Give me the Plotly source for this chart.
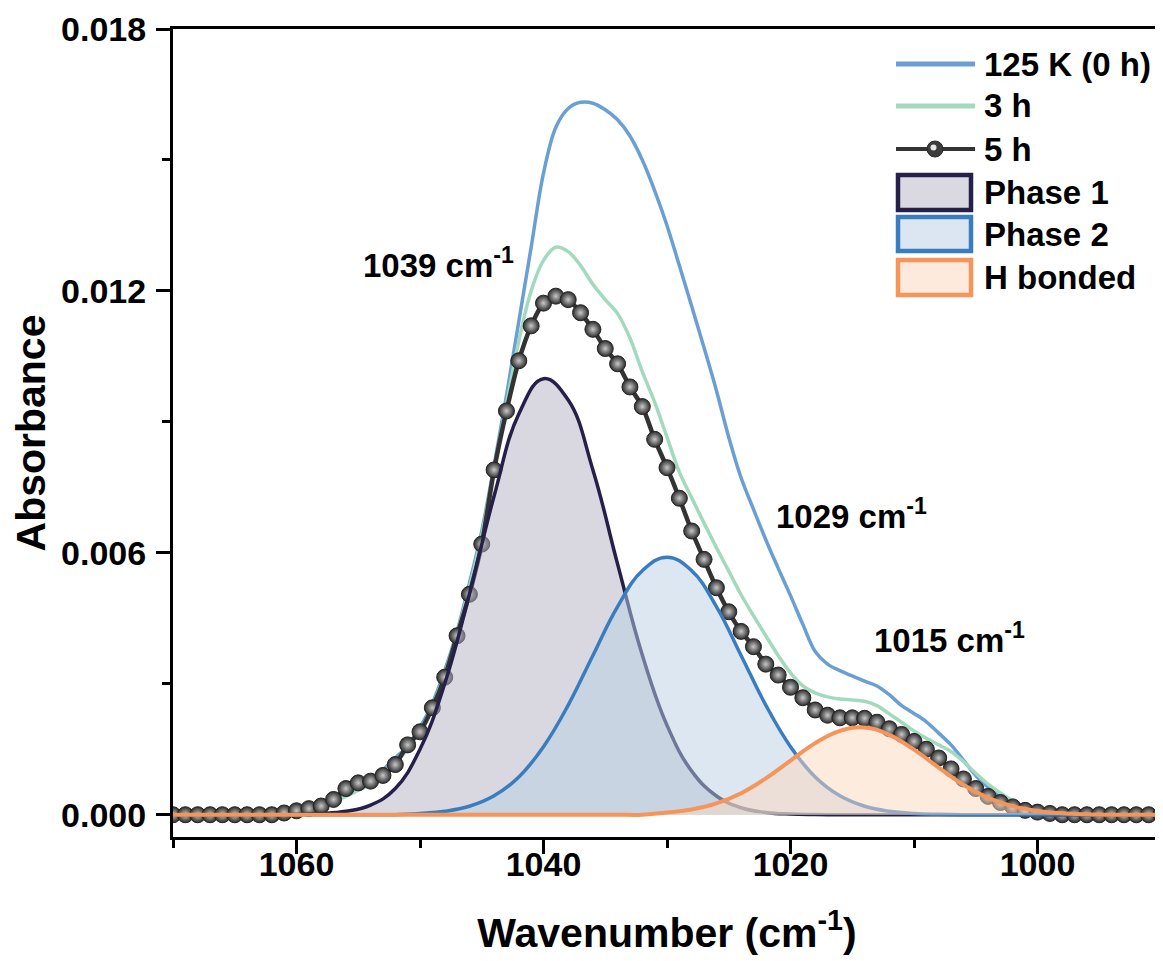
import plotly.graph_objects as go

# ---------------- data ----------------
wavenumber = [1070, 1069, 1068, 1067, 1066, 1065, 1064, 1063, 1062, 1061,
              1060, 1059, 1058, 1057, 1056, 1055, 1054, 1053, 1052, 1051,
              1050, 1049, 1048, 1047, 1046, 1045, 1044, 1043, 1042, 1041,
              1040, 1039, 1038, 1037, 1036, 1035, 1034, 1033, 1032, 1031,
              1030, 1029, 1028, 1027, 1026, 1025, 1024, 1023, 1022, 1021,
              1020, 1019, 1018, 1017, 1016, 1015, 1014, 1013, 1012, 1011,
              1010, 1009, 1008, 1007, 1006, 1005, 1004, 1003, 1002, 1001,
              1000, 999, 998, 997, 996, 995, 994, 993, 992, 991, 990]

abs_0h = [0, 0, 0, 0, 0, 0, 0, 0, 0, 0,
          0.00008, 0.00014, 0.00022, 0.00032, 0.00045, 0.00063, 0.00080, 0.00103, 0.00130, 0.00158,
          0.00200, 0.00255, 0.00330, 0.00420, 0.00530, 0.00650, 0.00800, 0.00960, 0.01130, 0.01300,
          0.01470, 0.01575, 0.01618, 0.01632, 0.01630, 0.01615, 0.01592, 0.01555, 0.01500, 0.01430,
          0.01350, 0.01258, 0.01165, 0.01070, 0.00972, 0.00865, 0.00772, 0.00700, 0.00630, 0.00565,
          0.00502, 0.00436, 0.00374, 0.00345, 0.00330, 0.00318, 0.00306, 0.00295, 0.00275, 0.00250,
          0.00232, 0.00213, 0.00187, 0.00160, 0.00125, 0.00090, 0.00063, 0.00040, 0.00025, 0.00012,
          0.00005, 0.00002, 0, 0, 0, 0, 0, 0, 0, 0, 0]

abs_3h = [0, 0, 0, 0, 0, 0, 0, 0, 0, 0,
          0.00008, 0.00013, 0.00020, 0.00030, 0.00042, 0.00056, 0.00070, 0.00090, 0.00118, 0.00150,
          0.00192, 0.00248, 0.00322, 0.00415, 0.00520, 0.00640, 0.00790, 0.00940, 0.01085, 0.01200,
          0.01270, 0.01300, 0.01290, 0.01258, 0.01215, 0.01180, 0.01148, 0.01092, 0.01015, 0.00945,
          0.00865, 0.00785, 0.00726, 0.00668, 0.00612, 0.00558, 0.00504, 0.00456, 0.00410, 0.00365,
          0.00325, 0.00295, 0.00279, 0.00270, 0.00265, 0.00263, 0.00260, 0.00250, 0.00231, 0.00212,
          0.00192, 0.00175, 0.00160, 0.00145, 0.00122, 0.00095, 0.00070, 0.00050, 0.00032, 0.00018,
          0.00008, 0.00003, 0, 0, 0, 0, 0, 0, 0, 0, 0]

abs_5h = [0, 0, 0, 0, 0, 0, 0, 0, 0, 0.00004,
          0.00009, 0.00014, 0.00020, 0.00035, 0.00060, 0.00073, 0.00077, 0.00090, 0.00115, 0.00160,
          0.00190, 0.00245, 0.00315, 0.00410, 0.00505, 0.00620, 0.00790, 0.00925, 0.01040, 0.01120,
          0.01172, 0.01188, 0.01180, 0.01150, 0.01112, 0.01068, 0.01033, 0.00980, 0.00935, 0.00860,
          0.00795, 0.00725, 0.00650, 0.00585, 0.00520, 0.00465, 0.00420, 0.00385, 0.00345, 0.00320,
          0.00292, 0.00268, 0.00240, 0.00228, 0.00222, 0.00222, 0.00221, 0.00212, 0.00197, 0.00184,
          0.00168, 0.00150, 0.00130, 0.00105, 0.00082, 0.00060, 0.00042, 0.00028, 0.00018, 0.00010,
          0.00006, 0.00003, 0, 0, 0, 0, 0, 0, 0, 0, 0]

wavenumber_fit = [1070, 1068, 1066, 1064, 1062, 1060, 1058, 1056, 1054, 1052,
                  1050, 1048, 1046, 1044, 1042, 1040, 1038, 1036, 1034, 1032,
                  1030, 1028, 1026, 1024, 1022, 1020, 1018, 1016, 1014, 1012,
                  1010, 1008, 1006, 1004, 1002, 1000, 998, 996, 994, 992, 990]

phase1 = [0, 0, 0, 0, 0, 0.000007, 0.000027, 0.000080, 0.00022, 0.00060,
          0.00150, 0.00300, 0.00505, 0.00730, 0.00918, 0.00999, 0.00950, 0.00790, 0.00574, 0.00366,
          0.00205, 0.00100, 0.00043, 0.00016, 0.000053, 0.000015, 0.000004, 0, 0, 0,
          0, 0, 0, 0, 0, 0, 0, 0, 0, 0, 0]

phase2 = [0, 0, 0, 0, 0, 0, 0, 0, 0, 0,
          0.000029, 0.000079, 0.000194, 0.000433, 0.000865, 0.00156, 0.00251, 0.00365, 0.00477, 0.00559,
          0.00590, 0.00559, 0.00477, 0.00365, 0.00251, 0.00156, 0.000865, 0.000433, 0.000194, 0.000079,
          0.000029, 0.00001, 0, 0, 0, 0, 0, 0, 0, 0, 0]

h_bonded = [0, 0, 0, 0, 0, 0, 0, 0, 0, 0,
            0, 0, 0, 0, 0, 0, 0, 0, 0, 0,
            0.00005, 0.000122, 0.00026, 0.000494, 0.000834, 0.00124, 0.00164, 0.00192, 0.00200, 0.00183,
            0.00149, 0.00108, 0.000686, 0.000388, 0.000195, 0.000087, 0.000034, 0.00001, 0, 0, 0]

x_ticks = [1060, 1040, 1020, 1000]
y_ticks = [0.000, 0.006, 0.012, 0.018]
legend_labels = ["125 K (0 h)", "3 h", "5 h", "Phase 1", "Phase 2", "H bonded"]
peak_labels = ["1039 cm<sup>-1</sup>", "1029 cm<sup>-1</sup>", "1015 cm<sup>-1</sup>"]

# ---------------- styling ----------------
FONT = "Arial, 'Liberation Sans', sans-serif"
C_0H = "#6a9fd3"
C_3H = "#a3d9bf"
C_5H = "#333333"
C_P1 = "#25204a"
C_P2 = "#3a7dbf"
C_HB = "#f5955a"
F_P1 = "rgba(179,177,193,0.5)"
F_P2 = "rgba(185,207,229,0.5)"
F_HB = "rgba(251,215,189,0.5)"

fig = go.Figure()

fig.add_trace(go.Scatter(x=wavenumber, y=abs_0h, mode="lines", name=legend_labels[0],
                         line=dict(color=C_0H, width=3.5, shape="spline", smoothing=1.0)))
fig.add_trace(go.Scatter(x=wavenumber, y=abs_3h, mode="lines", name=legend_labels[1],
                         line=dict(color=C_3H, width=3.5, shape="spline", smoothing=1.0)))
fig.add_trace(go.Scatter(x=wavenumber, y=abs_5h, mode="lines+markers", name=legend_labels[2],
                         line=dict(color=C_5H, width=4.5, shape="spline", smoothing=0.8),
                         marker=dict(size=16, color="#2b2b2b",
                                     gradient=dict(type="radial", color="#c8c8c8"),
                                     line=dict(width=1, color="#242424"))))
fig.add_trace(go.Scatter(x=wavenumber_fit, y=phase1, mode="lines", name=legend_labels[3],
                         fill="tozeroy", fillcolor=F_P1,
                         line=dict(color=C_P1, width=3.5, shape="spline", smoothing=1.2)))
fig.add_trace(go.Scatter(x=wavenumber_fit, y=phase2, mode="lines", name=legend_labels[4],
                         fill="tozeroy", fillcolor=F_P2,
                         line=dict(color=C_P2, width=3.5, shape="spline", smoothing=1.2)))
# last trace sits on the overlaid x axis that carries the tick labels (same range)
fig.add_trace(go.Scatter(x=wavenumber_fit, y=h_bonded, mode="lines", name=legend_labels[5],
                         fill="tozeroy", fillcolor=F_HB, xaxis="x2", yaxis="y",
                         line=dict(color=C_HB, width=4, shape="spline", smoothing=1.2)))

# ---------------- figure geometry ----------------
OFF = 8
FIG_W, FIG_H = 1155, 953
M_L, M_R, M_T, M_B = 165, 2, 21, 124
L = float(M_L + OFF); R = float(OFF + FIG_W - M_R); T = float(M_T + OFF); B = float(OFF + FIG_H - M_B)

def px(xp):
    return (xp - L) / (R - L)
def py(yp):
    return (B - yp) / (B - T)

# ---------------- custom legend (paper coordinates) ----------------
shapes = []
annotations = []
leg_x0, leg_x1, text_x = 896, 975, 982
line_rows = [(64, C_0H, 5), (106, C_3H, 5), (149, C_5H, 4)]
for (yy, col, w) in line_rows:
    shapes.append(dict(type="line", xref="paper", yref="paper",
                       x0=px(leg_x0), x1=px(leg_x1), y0=py(yy), y1=py(yy),
                       line=dict(color=col, width=w)))
cx, cy, r = 935, 149, 8
shapes.append(dict(type="circle", xref="paper", yref="paper",
                   x0=px(cx - r), x1=px(cx + r), y0=py(cy + r), y1=py(cy - r),
                   fillcolor="#3c3c3c", line=dict(color="#2a2a2a", width=1)))
shapes.append(dict(type="circle", xref="paper", yref="paper",
                   x0=px(cx - 4.5), x1=px(cx + 1.5), y0=py(cy + 1.5), y1=py(cy - 4.5),
                   fillcolor="#e6e6e6", line=dict(width=0)))
box_rows = [(173, 212, C_P1, "#dad9e1"), (215, 253, C_P2, "#dbe6f2"), (258, 297, C_HB, "#fdeadc")]
for (y0, y1, col, fc) in box_rows:
    shapes.append(dict(type="rect", xref="paper", yref="paper",
                       x0=px(leg_x0 + 2), x1=px(leg_x1 - 4), y0=py(y1 - 2), y1=py(y0 + 2),
                       fillcolor=fc, line=dict(color=col, width=4.5)))
text_rows = [64, 106, 149, 193, 234, 277]
for lab, yy in zip(legend_labels, text_rows):
    annotations.append(dict(text=lab, xref="paper", yref="paper", x=px(text_x), y=py(yy),
                            xanchor="left", yanchor="middle", showarrow=False,
                            font=dict(family=FONT, size=33, color="black", weight="bold")))

peak_pos = [(1054.8, 0.01265), (1021.3, 0.00690), (1013.4, 0.00405)]
for lab, (xx, yy) in zip(peak_labels, peak_pos):
    annotations.append(dict(text=lab, x=xx, y=yy, xref="x", yref="y",
                            xanchor="left", yanchor="middle", showarrow=False,
                            font=dict(family=FONT, size=33, color="black", weight="bold")))

TICKFONT = dict(family=FONT, size=34, color="black", weight="bold")
X_RANGE = [1070, 990]

fig.update_layout(
    width=FIG_W, height=FIG_H,
    margin=dict(l=M_L, r=M_R, t=M_T, b=M_B),
    plot_bgcolor="white", paper_bgcolor="white",
    showlegend=False,
    shapes=shapes, annotations=annotations,
    xaxis=dict(range=X_RANGE, tickvals=x_ticks, showticklabels=False,
               showline=True, linecolor="black", linewidth=3, mirror=True,
               ticks="outside", tickcolor="black", tickwidth=3, ticklen=14,
               minor=dict(dtick=10, tick0=1000, ticks="outside", ticklen=8, tickwidth=3, tickcolor="black"),
               showgrid=False, zeroline=False, automargin=False),
    xaxis2=dict(range=X_RANGE, overlaying="x", anchor="y", side="bottom",
                tickvals=x_ticks, ticktext=[str(v) for v in x_ticks],
                showline=False, ticks="", showgrid=False, zeroline=False, automargin=False,
                tickfont=TICKFONT, ticklabelstandoff=4,
                title=dict(text="Wavenumber (cm<sup>-1</sup>)", standoff=36,
                           font=dict(family=FONT, size=41, color="black", weight="bold"))),
    yaxis=dict(range=[-0.00051, 0.018], tickvals=y_ticks, tickformat=".3f",
               showline=True, linecolor="black", linewidth=3, mirror=True,
               ticks="outside", tickcolor="black", tickwidth=3, ticklen=14,
               minor=dict(dtick=0.003, tick0=0, ticks="outside", ticklen=8, tickwidth=3, tickcolor="black"),
               showgrid=False, zeroline=False, automargin=False,
               tickfont=TICKFONT, ticklabelstandoff=3,
               title=dict(text="Absorbance", standoff=7,
                          font=dict(family=FONT, size=41, color="black", weight="bold"))),
)

fig.write_html("out.html")
